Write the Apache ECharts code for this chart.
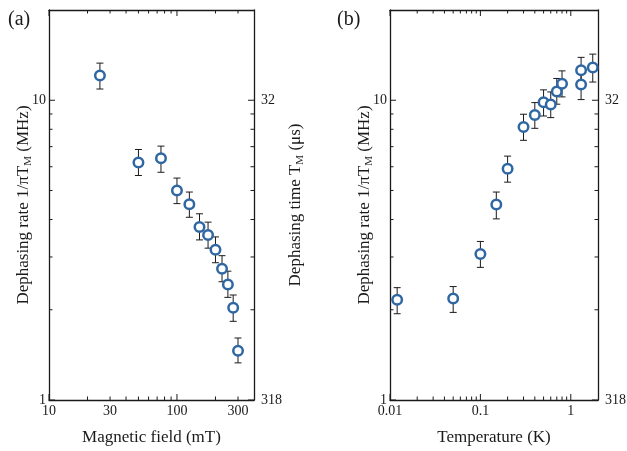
<!DOCTYPE html>
<html lang="en">
<head>
    <meta charset="UTF-8">
    <title>Dephasing rate</title>
    <script src="https://cdn.jsdelivr.net/npm/echarts@6.0.0/dist/echarts.min.js"></script>
    <style>
        html, body {margin: 0; padding: 0; background: #fff;}
        #main {width: 627px; height: 451px;}
    </style>
</head>
<body>
<div id="main"></div>
<script type="text/javascript">
    // (a) rate vs magnetic field
    var fieldMT = [25, 50, 75, 100, 125, 150, 175, 200, 225, 250, 275, 300];
    var rateA   = [12.1, 6.2, 6.4, 5.0, 4.5, 3.78, 3.55, 3.17, 2.74, 2.43, 2.03, 1.46];
    var rateAHi = [13.3, 6.85, 7.03, 5.5, 4.94, 4.18, 3.92, 3.5, 3.03, 2.69, 2.24, 1.61];
    var rateALo = [10.9, 5.61, 5.75, 4.52, 4.07, 3.42, 3.21, 2.87, 2.48, 2.2, 1.83, 1.33];

    // (b) rate vs temperature
    var tempK   = [0.012, 0.05, 0.1, 0.15, 0.2, 0.3, 0.4, 0.5, 0.6, 0.7, 0.8, 1.3, 1.3, 1.75];
    var rateB   = [2.16, 2.18, 3.07, 4.49, 5.91, 8.14, 8.93, 9.85, 9.67, 10.7, 11.36, 12.6, 11.28, 12.86];
    var rateBHi = [2.37, 2.39, 3.38, 4.94, 6.51, 8.98, 9.82, 10.83, 10.66, 11.82, 12.53, 13.9, 12.44, 14.25];
    var rateBLo = [1.94, 1.96, 2.77, 4.02, 5.33, 7.35, 8.06, 8.86, 8.75, 9.7, 10.26, 11.37, 10.05, 11.5];

    // axes ranges and ticks
    var yMin = 1, yMax = 20;
    var yMajor = [1, 10];
    var yMinor = [2, 3, 4, 5, 6, 7, 8, 9];
    var yRightLabels = ['318', '32'];   // dephasing time labels at yMajor

    var xMinA = 10, xMaxA = 400;
    var xMajorA = [10, 100];
    var xLabelsA = [10, 30, 100, 300];
    var xMinorA = [20, 30, 40, 50, 60, 70, 80, 90, 200, 300];

    var xMinB = 0.01, xMaxB = 2;
    var xMajorB = [0.01, 0.1, 1];
    var xLabelsB = [0.01, 0.1, 1];
    var xMinorB = [0.02, 0.03, 0.04, 0.05, 0.06, 0.07, 0.08, 0.09, 0.2, 0.3, 0.4, 0.5, 0.6, 0.7, 0.8, 0.9];

    var FONT = 'Liberation Serif';
    var INK = '#1a1a1a';
    var BLUE = '#2f67a3';
    var MAJOR = 6, MINOR = 3.5;

    var lineStyle = {color: INK, width: 1.3};
    var labelStyle = {fontFamily: FONT, fontSize: 14, color: INK};
    var nameStyle = {
        fontFamily: FONT, fontSize: 17, color: INK,
        rich: {sub: {fontFamily: FONT, fontSize: 11, color: INK, lineHeight: 11, padding: [9, 0, 0, 0]}}
    };

    function logAxis(grid, min, max, pos, extra) {
        var a = {
            type: 'log', logBase: 10, gridIndex: grid, min: min, max: max, position: pos,
            axisLine: {show: true, onZero: false, lineStyle: lineStyle},
            axisTick: {show: false},
            axisLabel: {show: false},
            splitLine: {show: false},
            nameMoveOverlap: false
        };
        return Object.assign(a, extra || {});
    }

    function xAxes(grid, min, max, labels, name) {
        return [
            logAxis(grid, min, max, 'bottom', {
                axisLabel: Object.assign({show: true, customValues: labels, margin: 4,
                    formatter: function (v) { return String(v); }}, labelStyle),
                name: name, nameLocation: 'middle', nameGap: 29, nameTextStyle: nameStyle
            }),
            logAxis(grid, min, max, 'top')
        ];
    }

    function yAxes(grid, rightGap) {
        return [
            logAxis(grid, yMin, yMax, 'left', {
                axisLabel: Object.assign({show: true, customValues: yMajor, margin: 3,
                    formatter: function (v) { return String(v); }}, labelStyle),
                name: 'Dephasing rate 1/\u03c0T{sub|M} (MHz)', nameLocation: 'middle', nameRotate: 90,
                nameGap: 17, nameTextStyle: nameStyle
            }),
            logAxis(grid, yMin, yMax, 'right', {
                axisLabel: Object.assign({show: true, customValues: yMajor, margin: 7,
                    formatter: function (v) { return v < 5 ? yRightLabels[0] : yRightLabels[1]; }}, labelStyle),
                name: 'Dephasing time T{sub|M} (\u03bcs)', nameLocation: 'middle', nameRotate: 90,
                nameGap: rightGap, nameTextStyle: nameStyle
            })
        ];
    }

    // inward ticks on all four sides: [x, y, side, length]; side 0 bottom, 1 top, 2 left, 3 right
    function tickData(xMin, xMax, xMajor, xMinor) {
        var d = [];
        xMajor.forEach(function (v) { d.push([v, yMin, 0, MAJOR], [v, yMax, 1, MAJOR]); });
        xMinor.forEach(function (v) { d.push([v, yMin, 0, MINOR], [v, yMax, 1, MINOR]); });
        yMajor.forEach(function (v) { d.push([xMin, v, 2, MAJOR], [xMax, v, 3, MAJOR]); });
        yMinor.forEach(function (v) { d.push([xMin, v, 2, MINOR], [xMax, v, 3, MINOR]); });
        return d;
    }

    function ticks(xi, yi, data) {
        return {
            type: 'custom', xAxisIndex: xi, yAxisIndex: yi, z: 1, silent: true,
            data: data,
            encode: {x: 0, y: 1},
            renderItem: function (params, api) {
                var p = api.coord([api.value(0), api.value(1)]);
                var side = api.value(2), len = api.value(3);
                var dx = side === 2 ? len : side === 3 ? -len : 0;
                var dy = side === 0 ? -len : side === 1 ? len : 0;
                return {
                    type: 'line',
                    shape: {x1: p[0], y1: p[1], x2: p[0] + dx, y2: p[1] + dy},
                    style: {stroke: INK, lineWidth: 1}
                };
            }
        };
    }

    // error bars with caps
    function errorBars(xi, yi, xs, lo, hi) {
        return {
            type: 'custom', xAxisIndex: xi, yAxisIndex: yi, z: 2, silent: true,
            data: xs.map(function (x, i) { return [x, lo[i], hi[i]]; }),
            encode: {x: 0, y: [1, 2]},
            renderItem: function (params, api) {
                var a = api.coord([api.value(0), api.value(1)]);
                var b = api.coord([api.value(0), api.value(2)]);
                var w = 3.5;
                var st = {stroke: INK, lineWidth: 1};
                return {
                    type: 'group', children: [
                        {type: 'line', shape: {x1: a[0], y1: a[1], x2: b[0], y2: b[1]}, style: st},
                        {type: 'line', shape: {x1: a[0] - w, y1: a[1], x2: a[0] + w, y2: a[1]}, style: st},
                        {type: 'line', shape: {x1: b[0] - w, y1: b[1], x2: b[0] + w, y2: b[1]}, style: st}
                    ]
                };
            }
        };
    }

    function points(xi, yi, xs, ys) {
        return {
            type: 'scatter', xAxisIndex: xi, yAxisIndex: yi, z: 3,
            data: xs.map(function (x, i) { return [x, ys[i]]; }),
            symbol: 'circle', symbolSize: 9.5,
            itemStyle: {color: '#ffffff', borderColor: BLUE, borderWidth: 2.5, opacity: 1}
        };
    }

    var myChart = echarts.init(document.getElementById('main'));
    var option = {
        animation: false,
        backgroundColor: '#ffffff',
        title: [
            {text: '(a)', left: 3, top: 5, textStyle: {fontFamily: FONT, fontSize: 20, fontWeight: 'normal', color: INK}},
            {text: '(b)', left: 332, top: 5, textStyle: {fontFamily: FONT, fontSize: 20, fontWeight: 'normal', color: INK}}
        ],
        grid: [
            {left: 49, top: 10, width: 205, height: 390, outerBoundsMode: 'none', containLabel: false},
            {left: 390, top: 10, width: 208, height: 390, outerBoundsMode: 'none', containLabel: false}
        ],
        xAxis: xAxes(0, xMinA, xMaxA, xLabelsA, 'Magnetic field (mT)')
            .concat(xAxes(1, xMinB, xMaxB, xLabelsB, 'Temperature (K)')),
        yAxis: yAxes(0, 33).concat(yAxes(1, 29)),
        series: [
            ticks(0, 0, tickData(xMinA, xMaxA, xMajorA, xMinorA)),
            errorBars(0, 0, fieldMT, rateALo, rateAHi),
            points(0, 0, fieldMT, rateA),
            ticks(2, 2, tickData(xMinB, xMaxB, xMajorB, xMinorB)),
            errorBars(2, 2, tempK, rateBLo, rateBHi),
            points(2, 2, tempK, rateB)
        ]
    };
    myChart.setOption(option);
</script>
</body>
</html>
